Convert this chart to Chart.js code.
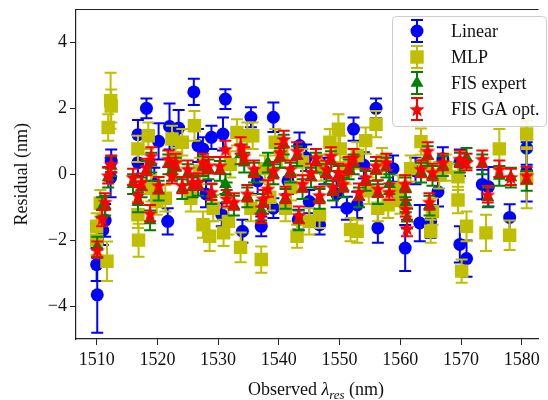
<!DOCTYPE html>
<html>
<head>
<meta charset="utf-8">
<script src="https://cdn.jsdelivr.net/npm/chart.js@4.4.0/dist/chart.umd.min.js"></script>
<style>
  html, body { margin: 0; padding: 0; background: #fff; }
  #wrap { width: 548px; height: 400px; }
</style>
</head>
<body>
<div id="wrap"><canvas id="chart" width="548" height="400"></canvas></div>
<script>
// tick labels
const xTicks = [1510, 1520, 1530, 1540, 1550, 1560, 1570, 1580];
const yTicks = [-4, -2, 0, 2, 4];
const seriesNames = ["Linear", "MLP", "FIS expert", "FIS GA opt."];

// Linear
const linearX = [1510.0,1510.1,1511.0,1511.4,1512.3,1512.4,1516.8,1516.8,1518.2,1519.5,
  1520.2,1521.7,1522.0,1523.5,1526.0,1526.7,1527.5,1528.0,1528.9,1530.6,
  1530.8,1531.2,1534.0,1535.4,1536.5,1537.1,1539.1,1539.1,1541.5,1543.2,
  1543.4,1544.5,1545.0,1546.7,1547.5,1549.5,1551.2,1552.3,1552.9,1554.0,
  1556.0,1556.3,1558.8,1560.8,1562.5,1563.2,1565.0,1566.2,1567.0,1569.8,
  1569.8,1570.9,1573.5,1574.5,1578.0,1580.8,1580.8];
const linearY = [-2.74,-3.66,-1.7,-1.4,-0.1,0.4,1.2,0.35,2.0,-0.3,
  1.0,-1.43,1.45,1.4,2.5,0.87,0.77,-0.6,1.12,-1.23,
  1.22,2.28,-1.73,1.73,-0.2,-1.58,1.73,-1.03,-0.2,-1.38,
  0.87,0.5,-0.83,-1.53,0.1,-0.6,-1.03,1.37,-0.93,0.27,
  2.0,-1.63,0.17,-2.24,0.1,-1.48,-1.43,-0.53,0.47,-2.13,
  0.35,-2.56,-0.31,-0.38,-1.31,0.79,0.07];
const linearErr = [0.5,1.15,0.45,0.5,0.6,0.35,0.45,0.4,0.3,0.5,
  0.55,0.4,0.7,0.55,0.4,0.5,0.35,0.4,0.35,0.35,
  0.5,0.3,0.35,0.3,0.4,0.3,0.45,0.3,0.4,0.3,
  0.4,0.4,0.35,0.3,0.4,0.4,0.35,0.35,0.4,0.4,
  0.3,0.45,0.4,0.7,0.4,0.55,0.5,0.45,0.35,0.55,
  0.4,0.55,0.45,0.6,0.4,0.5,0.9];

// MLP
const mlpX = [1510.0,1510.0,1510.6,1511.7,1511.9,1512.3,1512.4,1516.8,1516.8,1516.9,
  1518.5,1519.0,1519.9,1521.3,1522.4,1523.0,1524.1,1525.5,1526.1,1527.0,
  1527.5,1528.6,1529.2,1530.9,1531.7,1532.0,1533.1,1533.7,1534.8,1535.4,
  1535.7,1537.1,1537.7,1538.5,1539.4,1540.5,1541.1,1542.0,1543.0,1543.9,
  1545.0,1546.7,1547.0,1548.4,1549.8,1550.1,1551.0,1551.8,1552.9,1552.9,
  1554.3,1554.8,1556.0,1556.3,1557.0,1558.0,1559.7,1560.0,1561.7,1563.4,
  1564.0,1565.0,1565.3,1566.4,1567.5,1569.5,1569.5,1570.1,1570.9,1574.1,
  1576.3,1578.0,1580.8,1580.8];
const mlpY = [-1.58,-2.0,-0.88,-2.64,1.42,2.23,2.07,0.77,-1.23,-2.0,
  1.17,-0.43,-0.83,-0.73,1.07,0.5,0.97,-0.73,1.47,0.1,
  -1.53,-1.88,-1.03,-1.78,-1.43,0.3,1.27,-2.22,1.17,-1.03,
  1.17,-2.59,0.17,-0.7,0.97,0.6,-1.03,-0.4,-1.88,0.37,
  -1.43,-1.23,0.2,0.97,1.37,0.77,0.1,-1.68,-1.73,0.57,
  1.02,-0.5,1.52,-1.03,0.4,-0.93,-0.43,-0.8,0.17,0.99,
  0.3,-1.73,-1.13,-0.03,0.2,-0.08,-0.78,-2.94,-1.58,-1.78,
  0.77,-1.85,1.22,-0.13];
const mlpErr = [0.4,0.45,0.4,0.6,0.4,0.85,0.5,0.4,0.4,0.5,
  0.4,0.4,0.4,0.4,0.4,0.4,0.4,0.4,0.45,0.4,
  0.4,0.45,0.4,0.4,0.4,0.4,0.4,0.45,0.4,0.4,
  0.4,0.4,0.4,0.4,0.4,0.4,0.4,0.4,0.35,0.4,
  0.4,0.4,0.4,0.4,0.45,0.4,0.4,0.35,0.35,0.4,
  0.4,0.4,0.4,0.4,0.4,0.4,0.4,0.4,0.4,0.4,
  0.4,0.35,0.4,0.4,0.4,0.4,0.4,0.35,0.45,0.55,
  0.6,0.45,0.4,0.9];

// FIS (expert and GA share the samples)
const fisX = [1510.1,1510.9,1511.4,1511.9,1512.4,1516.0,1516.8,1517.4,1518.2,1518.8,
  1519.0,1520.2,1521.8,1522.4,1523.0,1524.1,1525.0,1525.8,1526.7,1527.5,
  1528.4,1528.9,1530.3,1531.2,1531.4,1532.6,1533.7,1534.3,1534.8,1535.9,
  1537.1,1537.4,1538.2,1539.1,1540.2,1540.8,1541.1,1541.9,1543.0,1543.3,
  1543.9,1545.3,1546.1,1546.7,1547.8,1548.6,1548.9,1549.8,1550.6,1551.5,
  1552.3,1553.2,1554.3,1556.0,1556.3,1557.7,1558.2,1560.8,1560.9,1561.1,
  1563.4,1564.5,1564.8,1565.3,1567.0,1569.8,1570.9,1573.5,1574.4,1576.3,
  1578.2,1580.8];
const expertY = [-2.2,-1.0,-0.95,-0.1,0.25,-0.3,-0.85,-0.4,0.1,-1.4,
  0.35,-0.5,0.3,0.1,0.2,-0.45,0.0,-0.4,-0.35,0.25,
  0.15,-0.6,0.1,-0.3,-0.55,-0.95,0.6,0.35,-0.7,0.05,
  -1.1,-0.9,0.35,0.0,0.5,0.9,-0.75,0.05,0.55,-1.4,
  -0.45,-0.1,0.35,-0.75,0.0,0.4,-0.5,-0.05,-0.4,0.15,
  0.3,-0.7,-0.2,0.1,-0.6,0.2,-0.3,-0.4,-0.85,-1.35,
  0.05,0.55,-0.95,-0.05,0.25,0.35,0.5,0.3,-0.7,-0.05,
  -0.1,-0.2];
const expertErr = [0.3,0.3,0.3,0.3,0.3,0.3,0.3,0.3,0.3,0.3,
  0.3,0.3,0.3,0.3,0.3,0.3,0.3,0.3,0.3,0.3,
  0.3,0.3,0.3,0.3,0.3,0.3,0.3,0.3,0.3,0.3,
  0.3,0.3,0.3,0.3,0.3,0.3,0.3,0.3,0.3,0.3,
  0.3,0.3,0.3,0.3,0.3,0.3,0.3,0.3,0.3,0.3,
  0.3,0.3,0.3,0.3,0.3,0.3,0.3,0.3,0.3,0.3,
  0.3,0.3,0.3,0.3,0.3,0.3,0.3,0.3,0.3,0.3,
  0.3,0.3];
const gaY = [-2.29,-1.33,-0.83,-0.03,0.32,-0.08,-0.63,-0.23,0.22,-1.18,
  0.57,-0.33,0.47,-0.03,0.37,-0.33,0.17,-0.23,-0.23,0.37,
  0.27,-0.53,0.27,0.77,-0.73,-0.83,0.87,0.57,-0.58,0.17,
  -1.23,-0.73,-0.43,0.12,0.67,1.07,-0.63,0.17,0.72,-1.23,
  -0.28,0.07,0.52,-0.63,0.17,0.57,-0.38,0.07,-0.28,0.27,
  0.52,-0.53,-0.08,0.27,-0.43,0.37,-0.53,-0.28,-1.03,-1.63,
  0.17,0.72,-0.83,0.07,0.37,0.47,0.37,0.47,-0.61,0.17,
  -0.08,-0.03];
const gaErr = [0.25,0.25,0.25,0.25,0.25,0.25,0.25,0.25,0.25,0.25,
  0.25,0.25,0.25,0.25,0.25,0.25,0.25,0.25,0.25,0.25,
  0.25,0.25,0.25,0.25,0.25,0.25,0.25,0.25,0.25,0.25,
  0.25,0.25,0.25,0.25,0.25,0.25,0.25,0.25,0.25,0.25,
  0.25,0.25,0.25,0.25,0.25,0.25,0.25,0.25,0.25,0.25,
  0.25,0.25,0.25,0.25,0.25,0.25,0.25,0.25,0.25,0.25,
  0.25,0.25,0.25,0.25,0.25,0.25,0.25,0.25,0.25,0.25,
  0.25,0.25];

const SERIF = "'Liberation Serif', 'DejaVu Serif', serif";
const colors = ["#0000ff", "#bfbf00", "#008000", "#ff0000"];

function pts(xs, ys, es) {
  return xs.map((x, i) => ({ x: x, y: ys[i], e: es[i] }));
}

// filled five point star like matplotlib "*"
function makeStar(r, color) {
  const c = document.createElement("canvas");
  const s = Math.ceil(r * 2 + 2);
  c.width = s; c.height = s;
  const g = c.getContext("2d");
  g.fillStyle = color;
  g.beginPath();
  for (let i = 0; i < 10; i++) {
    const rr = i % 2 ? r * 0.42 : r;
    const a = -Math.PI / 2 + i * Math.PI / 5;
    g.lineTo(s / 2 + rr * Math.cos(a), s / 2 + 1 + rr * Math.sin(a));
  }
  g.closePath();
  g.fill();
  return c;
}
const starImg = makeStar(8, colors[3]);

const errorBars = {
  id: "errorBars",
  beforeDatasetDraw(chart, args) {
    const ds = chart.data.datasets[args.index];
    const xs = chart.scales.x, ys = chart.scales.y;
    const a = chart.chartArea;
    const ctx = chart.ctx;
    ctx.save();
    ctx.beginPath();
    ctx.rect(a.left, a.top, a.right - a.left, a.bottom - a.top);
    ctx.clip();
    ctx.strokeStyle = ds.backgroundColor;
    ctx.lineWidth = 2;
    ds.data.forEach(p => {
      const px = xs.getPixelForValue(p.x);
      const t = ys.getPixelForValue(p.y + p.e);
      const b = ys.getPixelForValue(p.y - p.e);
      ctx.beginPath();
      ctx.moveTo(px, t); ctx.lineTo(px, b);
      ctx.moveTo(px - 6, t); ctx.lineTo(px + 6, t);
      ctx.moveTo(px - 6, b); ctx.lineTo(px + 6, b);
      ctx.stroke();
    });
    ctx.restore();
  }
};

const decorations = {
  id: "decorations",
  afterDraw(chart) {
    const ctx = chart.ctx;
    const a = chart.chartArea;
    ctx.save();
    // top spine
    ctx.strokeStyle = "#222";
    ctx.lineWidth = 1.2;
    ctx.beginPath();
    ctx.moveTo(a.left, a.top); ctx.lineTo(a.right, a.top);
    ctx.stroke();

    // y title
    ctx.fillStyle = "#111";
    ctx.font = "18px " + SERIF;
    ctx.textAlign = "center";
    ctx.textBaseline = "middle";
    ctx.save();
    ctx.translate(22, (a.top + a.bottom) / 2);
    ctx.rotate(-Math.PI / 2);
    ctx.fillText("Residual (nm)", 0, 0);
    ctx.restore();

    // x title with italic lambda and subscript
    const parts = [
      { t: "Observed ", f: "18px " + SERIF, dy: 0 },
      { t: "\u03bb", f: "italic 18px " + SERIF, dy: 0 },
      { t: "res", f: "italic 13px " + SERIF, dy: 4 },
      { t: " (nm)", f: "18px " + SERIF, dy: 0 }
    ];
    let total = 0;
    parts.forEach(p => { ctx.font = p.f; p.w = ctx.measureText(p.t).width; total += p.w; });
    let x = 316 - total / 2;
    ctx.textAlign = "left";
    ctx.textBaseline = "alphabetic";
    parts.forEach(p => { ctx.font = p.f; ctx.fillText(p.t, x, 395 + p.dy); x += p.w; });

    // legend
    ctx.fillStyle = "rgba(255,255,255,0.85)";
    ctx.strokeStyle = "#cccccc";
    ctx.lineWidth = 1;
    ctx.beginPath();
    ctx.roundRect(392.5, 16.5, 154, 110, 4);
    ctx.fill();
    ctx.stroke();
    const rowY = [31, 57, 83, 109];
    chart.data.datasets.forEach((ds, i) => {
      const y = rowY[i], gx = 417;
      ctx.strokeStyle = ds.backgroundColor;
      ctx.lineWidth = 2;
      ctx.beginPath();
      ctx.moveTo(gx, y - 11); ctx.lineTo(gx, y + 11);
      ctx.moveTo(gx - 6, y - 11); ctx.lineTo(gx + 6, y - 11);
      ctx.moveTo(gx - 6, y + 11); ctx.lineTo(gx + 6, y + 11);
      ctx.stroke();
      ctx.fillStyle = ds.backgroundColor;
      Chart.helpers.drawPoint(ctx, {
        pointStyle: ds.pointStyle, radius: ds.pointRadius, rotation: 0, borderWidth: 0
      }, gx, y);
      ctx.fillStyle = "#111";
      ctx.font = "18px " + SERIF;
      ctx.textAlign = "left";
      ctx.textBaseline = "middle";
      ctx.fillText(seriesNames[i], 451, y + 1);
    });
    ctx.restore();
  }
};

const tickFont = { family: SERIF, size: 18 };

new Chart(document.getElementById("chart"), {
  type: "scatter",
  data: {
    datasets: [
      { label: seriesNames[0], data: pts(linearX, linearY, linearErr), backgroundColor: colors[0],
        borderWidth: 0, pointStyle: "circle", pointRadius: 6.5, order: 4 },
      { label: seriesNames[1], data: pts(mlpX, mlpY, mlpErr), backgroundColor: colors[1],
        borderWidth: 0, pointStyle: "rect", pointRadius: 9.5, order: 3 },
      { label: seriesNames[2], data: pts(fisX, expertY, expertErr), backgroundColor: colors[2],
        borderWidth: 0, pointStyle: "triangle", pointRadius: 7.5, order: 2 },
      { label: seriesNames[3], data: pts(fisX, gaY, gaErr), backgroundColor: colors[3],
        borderWidth: 0, pointStyle: starImg, pointRadius: 8, order: 1 }
    ]
  },
  options: {
    responsive: false,
    animation: false,
    devicePixelRatio: 1,
    layout: { padding: { top: 6, left: 0, right: 0, bottom: 0 } },
    plugins: { legend: { display: false }, tooltip: { enabled: false } },
    scales: {
      x: {
        type: "linear", min: 1506.6, max: 1582.75,
        afterBuildTicks: s => { s.ticks = xTicks.map(v => ({ value: v })); },
        afterFit: s => { s.height = 61; s.paddingLeft = 0; s.paddingRight = 0; },
        grid: { drawOnChartArea: false, tickLength: 6, color: "#222", lineWidth: 1 },
        border: { color: "#222", width: 1.2 },
        ticks: { font: tickFont, color: "#111", padding: 4, maxRotation: 0, autoSkip: false,
          callback: v => String(v) }
      },
      y: {
        type: "linear", min: -5, max: 5,
        afterBuildTicks: s => { s.ticks = yTicks.map(v => ({ value: v })); },
        afterFit: s => { s.width = 76; s.paddingTop = 0; s.paddingBottom = 0; },
        grid: { drawOnChartArea: false, tickLength: 6, color: "#222", lineWidth: 1 },
        border: { color: "#222", width: 1.2 },
        ticks: {
          font: tickFont, color: "#111", padding: 3,
          callback: v => v < 0 ? "\u2212" + Math.abs(v) : String(v)
        }
      }
    }
  },
  plugins: [errorBars, decorations]
});
</script>
</body>
</html>
